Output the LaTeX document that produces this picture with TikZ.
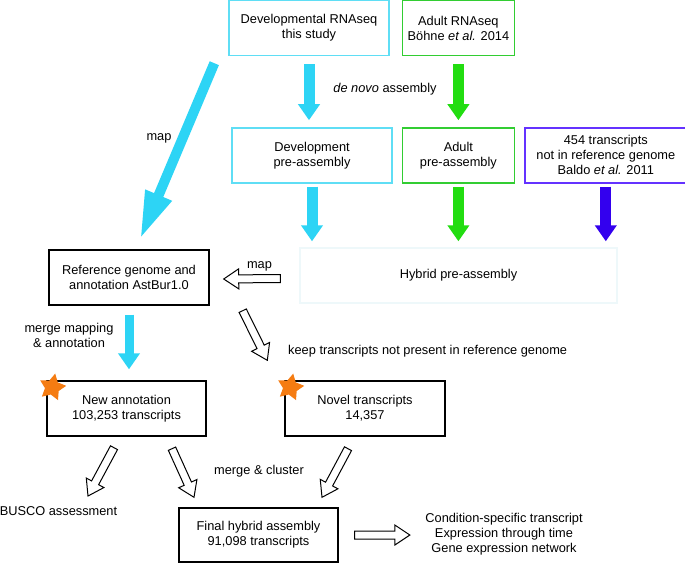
\documentclass[tikz,border=0pt]{standalone}
\usepackage{fontspec}
\setmainfont{Liberation Sans}
\usetikzlibrary{arrows.meta,positioning,calc,shapes.geometric}

\definecolor{devblue}{RGB}{45,212,245}
\definecolor{devline}{RGB}{95,222,245}
\definecolor{adultgreen}{RGB}{34,221,17}
\definecolor{adultline}{RGB}{50,205,50}
\definecolor{baldoblue}{RGB}{51,0,238}
\definecolor{baldoline}{RGB}{100,50,255}
\definecolor{hybridline}{RGB}{238,248,250}
\definecolor{starorange}{RGB}{245,124,18}

\begin{document}
\begin{tikzpicture}[
    x=1pt, y=-1pt,
    font=\fontsize{12.8}{15}\selectfont,
    box/.style={rectangle, draw=black, line width=1.4pt, minimum width=160pt, minimum height=55pt, align=center, inner sep=0pt},
    devbox/.style={box, draw=devline},
    adultbox/.style={box, draw=adultline, minimum width=112pt},
    fatarrow/.style={line width=11pt, -{Triangle[width=21pt,length=16pt]}},
    novelstar/.style={star, star points=5, star point ratio=1.9, fill=starorange, minimum size=28pt, inner sep=0pt, rotate=-12},
    hollow/.style={draw=black, fill=white, line width=1pt, line join=miter,
        to path={($(\tikztostart)!4pt!90:(\tikztotarget)$)
            -- ($(\tikztotarget)!15pt!(\tikztostart)!4pt!-90:(\tikztostart)$)
            -- ($(\tikztotarget)!15pt!(\tikztostart)!10pt!-90:(\tikztostart)$)
            -- (\tikztotarget)
            -- ($(\tikztotarget)!15pt!(\tikztostart)!10pt!90:(\tikztostart)$)
            -- ($(\tikztotarget)!15pt!(\tikztostart)!4pt!90:(\tikztostart)$)
            -- ($(\tikztostart)!4pt!-90:(\tikztotarget)$) -- cycle}}
]
    \fill[white] (0,0) rectangle (685,563);
    \useasboundingbox (0,0) rectangle (685,563);

    % Input data
    \node[devbox] (devseq) at (309,28) {Developmental RNAseq\\this study};
    \node[adultbox, right=12pt of devseq] (adultseq) {Adult RNAseq\\Böhne \textit{et al.} 2014};

    % Pre-assemblies
    \node[adultbox, below=71pt of adultseq] (adultpre) {Adult\\pre-assembly};
    \node[devbox, left=9pt of adultpre] (devpre) {Development\\pre-assembly};
    \node[box, draw=baldoline, minimum width=162pt, right=9pt of adultpre] (b454) {454 transcripts\\not in reference genome\\Baldo \textit{et al.} 2011};
    \node[box, draw=hybridline, minimum width=317pt] (hybrid) at (458.5,275.5) {Hybrid pre-assembly};

    % Reference and results
    \node[box] (refgen) at (129,277.5) {Reference genome and\\annotation AstBur1.0};
    \node[box, minimum width=159pt] (newann) at (126.5,408.5) {New annotation\\103,253 transcripts};
    \node[box] (novel) at (365,408.5) {Novel transcripts\\14,357};
    \node[box, minimum width=159pt, minimum height=54pt] (final) at (258.5,535) {Final hybrid assembly\\91,098 transcripts};
    \node[novelstar] (star1) at ($(newann.north west)+(6,7)$) {};
    \node[novelstar] (star2) at ($(novel.north west)+(6,7)$) {};

    \node (busco) at (58.5,511) {BUSCO assessment};
    \node[align=center] (outcome) at (504,534) {Condition-specific transcript\\Expression through time\\Gene expression network};

    % Labels
    \node (map1) at (159,138) {map};
    \node (denovo) at (385,89) {\textit{de novo} assembly};
    \node (map2) at (259.5,266) {map};
    \node[align=center] (mergemap) at (69,335) {merge mapping\\\& annotation};
    \node[anchor=west, inner sep=0pt] (keep) at (288,351) {keep transcripts not present in reference genome};
    \node (mergecl) at (259,471) {merge \& cluster};

    % Coloured arrows
    \draw[fatarrow, devblue, shorten <=8pt, shorten >=7pt] (devseq.south) -- (devseq.south |- devpre.north);
    \draw[fatarrow, adultgreen, shorten <=8pt, shorten >=7pt] (adultseq.south) -- (adultseq.south |- adultpre.north);
    \draw[fatarrow, devblue, shorten <=3pt, shorten >=6pt] (devpre.south) -- (devpre.south |- hybrid.north);
    \draw[fatarrow, adultgreen, shorten <=3pt, shorten >=6pt] (adultpre.south) -- (adultpre.south |- hybrid.north);
    \draw[fatarrow, baldoblue, shorten <=3pt, shorten >=6pt] (b454.south) -- (b454.south |- hybrid.north);
    \draw[devblue, line width=10pt, -{Triangle[width=26pt,length=48pt]}] ($(devseq.south west)+(-14,7)$) -- ($(refgen.north)+(11,-10)$);
    \draw[fatarrow, line width=9pt, devblue, shorten <=9pt, shorten >=11pt] (refgen.south) -- (refgen.south |- newann.north);

    % Open arrows
    \draw[hollow] ($(hybrid.west)+(-19,3)$) to ($(refgen.east)+(14,1.5)$);
    \draw[hollow] ($(refgen.south east)+(33,5)$) to ($(novel.north west)+(-17,-20)$);
    \draw[hollow] ($(newann.south)+(-12.5,11)$) to ($(busco.center)+(29.5,-15)$);
    \draw[hollow] ($(newann.south)+(45.5,12)$) to ($(final.north)+(-64.5,-10)$);
    \draw[hollow] ($(novel.south)+(-17,12)$) to ($(final.north)+(63.5,-10)$);
    \draw[hollow] ($(final.east)+(16,0)$) to ($(outcome.west)+(-12,1)$);
\end{tikzpicture}
\end{document}
